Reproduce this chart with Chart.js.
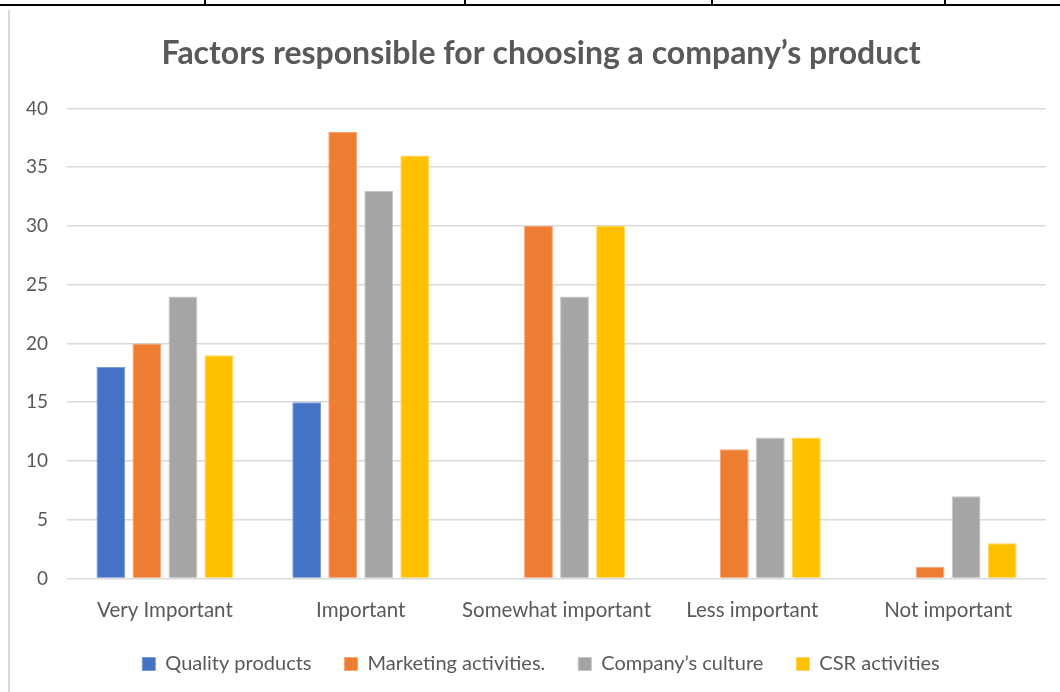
<!DOCTYPE html>
<html>
<head>
<meta charset="utf-8">
<script src="https://cdn.jsdelivr.net/npm/chart.js@4"></script>
<style>
  body { margin: 0; background: #fff; }
  #wrap { position: relative; width: 1060px; height: 692px; }
  #topline { position: absolute; left: 0; top: 4px; width: 1060px; height: 2px; background: #000; }
  .vtick { position: absolute; top: 0; width: 2px; height: 5px; background: #000; }
  #leftline { position: absolute; left: 8px; top: 10px; width: 2px; height: 682px; background: #D9D9D9; }
  #c { position: absolute; left: 0; top: 0; }
</style>
</head>
<body>
<div id="wrap">
  <div id="topline"></div>
  <div class="vtick" style="left:204px"></div>
  <div class="vtick" style="left:464px"></div>
  <div class="vtick" style="left:711px"></div>
  <div class="vtick" style="left:944px"></div>
  <div id="leftline"></div>
  <canvas id="c" width="1060" height="692"></canvas>
</div>
<script>
// dane z wykresu
const categories = ['Very Important', 'Important', 'Somewhat important', 'Less important', 'Not important'];
const seriesNames = ['Quality products', 'Marketing activities.', 'Company\u2019s culture', 'CSR activities'];
const qualityProducts = [18, 15, null, null, null];
const marketingActivities = [20, 38, 30, 11, 1];
const companysCulture = [24, 33, 24, 12, 7];
const csrActivities = [19, 36, 30, 12, 3];
const yTicks = [0, 5, 10, 15, 20, 25, 30, 35, 40];

const colors = ['#4472C4', '#ED7D31', '#A5A5A5', '#FFC000'];
const borders = ['#7A9AD6', '#F2A273', '#C4C4C4', '#FFD45C'];
const values = [qualityProducts, marketingActivities, companysCulture, csrActivities];

const FONT = 'Lato, "Open Sans", sans-serif';

// przesuwa tytul i legende troche w prawo (w oryginale sa na srodku calej ramki)
const shiftBoxes = {
    id: 'shiftBoxes',
    afterLayout(chart) {
        if (chart.titleBlock) chart.titleBlock.left += 36;
        if (chart.legend) chart.legend.left += 36;
    }
};

const ctx = document.getElementById('c').getContext('2d');
const myChart = new Chart(ctx, {
    type: 'bar',
    data: {
        labels: categories,
        datasets: seriesNames.map((name, i) => ({
            label: name,
            data: values[i],
            backgroundColor: colors[i],
            borderColor: borders[i],
            borderWidth: 1,
            categoryPercentage: 0.736,
            barPercentage: 0.8
        }))
    },
    plugins: [shiftBoxes],
    options: {
        responsive: false,
        animation: false,
        layout: { padding: { left: 0, right: 14, top: 0, bottom: 8 } },
        plugins: {
            title: {
                display: true,
                text: 'Factors responsible for choosing a company\u2019s product',
                color: '#595959',
                font: { family: FONT, size: 32, weight: 'bold' },
                padding: { top: 34, bottom: 36 }
            },
            legend: {
                position: 'bottom',
                labels: {
                    color: '#595959',
                    font: { family: FONT, size: 20 },
                    boxWidth: 13,
                    boxHeight: 13,
                    padding: 33,
                    useBorderRadius: false
                }
            },
            tooltip: { enabled: false }
        },
        scales: {
            y: {
                min: 0,
                max: 40,
                afterBuildTicks: scale => { scale.ticks = yTicks.map(v => ({ value: v })); },
                afterFit: scale => { scale.width = 67; },
                ticks: {
                    color: '#595959',
                    font: { family: FONT, size: 19 },
                    padding: 19
                },
                grid: { color: '#D9D9D9', lineWidth: 1.5, drawTicks: false },
                border: { display: false }
            },
            x: {
                afterFit: scale => { scale.height -= 22; }, // mniej miejsca pod osia
                ticks: {
                    color: '#595959',
                    font: { family: FONT, size: 20.5 },
                    padding: 20
                },
                grid: { display: false, drawTicks: false },
                border: { display: false }
            }
        }
    }
});
</script>
</body>
</html>
